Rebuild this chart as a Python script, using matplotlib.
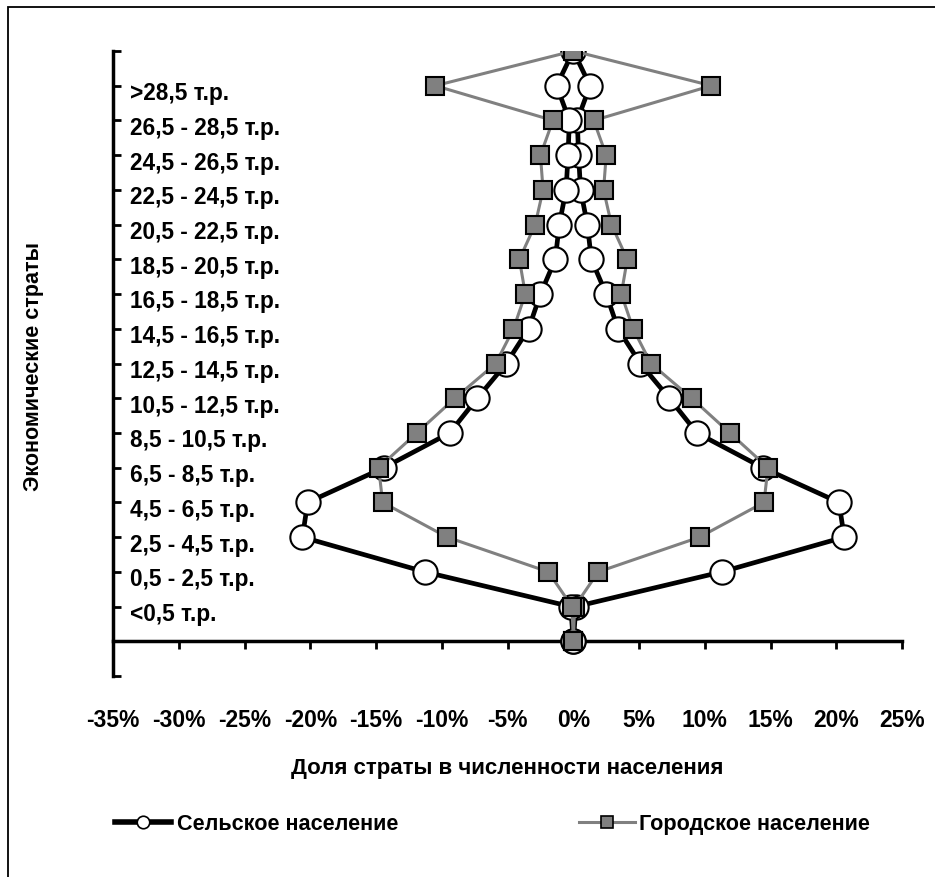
import matplotlib
matplotlib.use('Agg')
import matplotlib.pyplot as plt
from matplotlib.lines import Line2D
from matplotlib.patches import Rectangle
import numpy as np

# strata, bottom to top
strata = ['<0,5 т.р.', '0,5 - 2,5 т.р.', '2,5 - 4,5 т.р.', '4,5 - 6,5 т.р.',
          '6,5 - 8,5 т.р.', '8,5 - 10,5 т.р.', '10,5 - 12,5 т.р.', '12,5 - 14,5 т.р.',
          '14,5 - 16,5 т.р.', '16,5 - 18,5 т.р.', '18,5 - 20,5 т.р.', '20,5 - 22,5 т.р.',
          '22,5 - 24,5 т.р.', '24,5 - 26,5 т.р.', '26,5 - 28,5 т.р.', '>28,5 т.р.']

# share of stratum (%), rows 0..17 (0 and 17 are the closing points)
rural = [0, 0.2, 11.3, 20.6, 20.2, 14.4, 9.4, 7.3, 5.1, 3.4, 2.5, 1.37, 1.07, 0.55, 0.4, 0.3, 1.27, 0]
urban = [0, 0.1, 1.9, 9.6, 14.5, 14.8, 11.9, 9.0, 5.9, 4.55, 3.65, 4.1, 2.9, 2.3, 2.5, 1.55, 10.5, 0]

xticks = list(range(-35, 30, 5))

FONT = ['Liberation Sans', 'DejaVu Sans']


def loop(vals):
    v = np.array(vals, dtype=float)
    rows = np.arange(len(v))
    x = np.concatenate([v, -v[::-1][1:]])
    y = np.concatenate([rows, rows[::-1][1:]])
    return x, y


fig = plt.figure(figsize=(9.35, 8.78), dpi=100)
ax = fig.add_axes([0.1209, 0.2289, 0.8439, 0.7119])

xr, yr = loop(rural)
xu, yu = loop(urban)
ax.plot(xr, yr, color='black', lw=3.4, marker='o', ms=17.5, mfc='white', mec='black', mew=1.5, zorder=3)
ax.plot(xu, yu, color='#808080', lw=2.2, marker='s', ms=12.5, mfc='#808080', mec='black', mew=1.5, zorder=4)

ax.set_xlim(-35, 25)
ax.set_ylim(-1, len(rural) - 1)

ax.spines['top'].set_visible(False)
ax.spines['right'].set_visible(False)
ax.spines['left'].set_linewidth(2.5)
ax.spines['bottom'].set_linewidth(2.5)
ax.spines['bottom'].set_position(('data', 0))

ax.set_yticks(range(-1, len(rural)))
ax.tick_params(axis='y', direction='in', length=6, width=2, labelleft=False)
ax.set_xticks(xticks)
ax.tick_params(axis='x', direction='out', length=6, width=2, labelbottom=False)

sec = ax.secondary_xaxis(0)
sec.spines['bottom'].set_visible(False)
sec.set_xticks(xticks, labels=[f'{t}%' for t in xticks])
sec.tick_params(length=0, pad=23)
for lab in sec.get_xticklabels():
    lab.set_fontfamily(FONT)
    lab.set_fontweight('bold')
    lab.set_fontsize(16.5)

for i, name in enumerate(strata):
    ax.annotate(name, xy=(0.0215, i + 1), xycoords=('axes fraction', 'data'),
                xytext=(0, -5), textcoords='offset points',
                ha='left', va='center', fontsize=16.3, fontweight='bold', family=FONT)

fig.text(0.0353, 0.583, 'Экономические страты', rotation=90, ha='center', va='center',
         fontsize=15.5, fontweight='bold', family=FONT)
fig.text(0.5428, 0.125, 'Доля страты в численности населения', ha='center', va='center',
         fontsize=16, fontweight='bold', family=FONT)

h1 = Line2D([], [], color='black', lw=4, marker='o', ms=9, mfc='white', mec='black', mew=1.2)
h2 = Line2D([], [], color='#808080', lw=2.2, marker='s', ms=9, mfc='#808080', mec='black', mew=1.2)
leg_font = {'family': FONT, 'weight': 'bold', 'size': 15.6}
leg1 = fig.legend([h1], ['Сельское население'], loc='center left', bbox_to_anchor=(115 / 935, 0.0605),
                  frameon=False, prop=leg_font, handlelength=2.6, handletextpad=0.28,
                  borderpad=0, borderaxespad=0)
leg2 = fig.legend([h2], ['Городское население'], loc='center left', bbox_to_anchor=(579 / 935, 0.0605),
                  frameon=False, prop=leg_font, handlelength=2.6, handletextpad=0.15,
                  borderpad=0, borderaxespad=0)

fig.patches.append(Rectangle((8 / 935, -0.05), 1.1, 1 - 8 / 878 + 0.05, transform=fig.transFigure,
                             fill=False, edgecolor='black', lw=1.3))

fig.savefig('out.png', dpi=100)
